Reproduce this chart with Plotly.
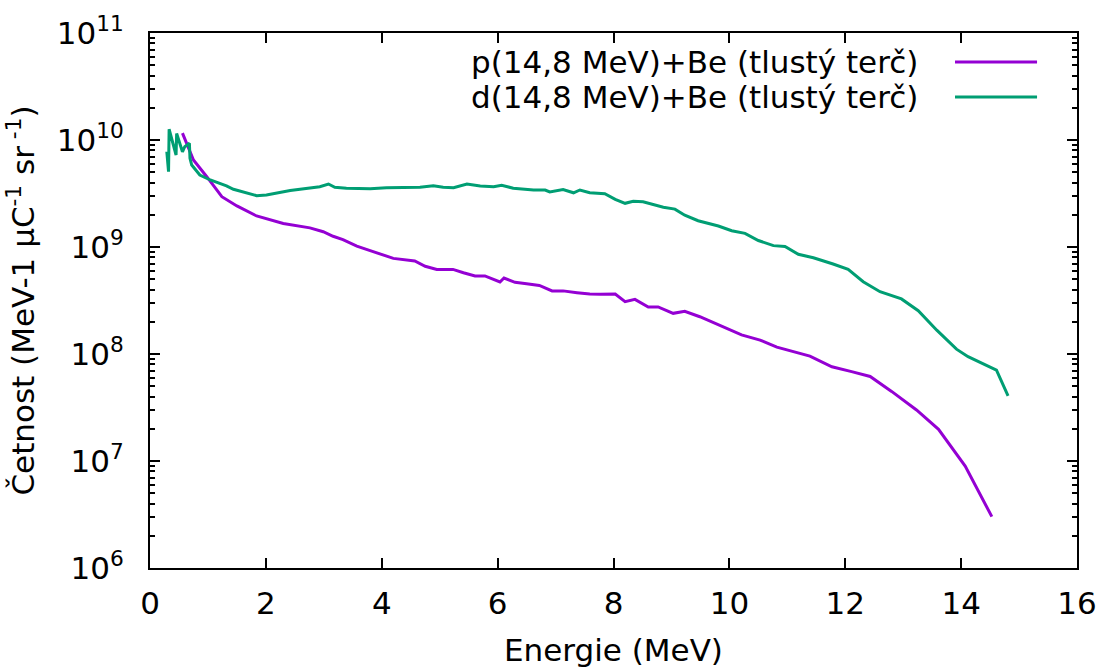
import plotly.graph_objects as go

# Proton beam: p(14,8 MeV)+Be
energy_p = [0.56, 0.75, 0.98, 1.09, 1.24, 1.50, 1.73, 1.84, 2.30, 2.59, 2.76, 2.99, 3.16, 3.33,
            3.57, 3.80, 4.03, 4.20, 4.57, 4.75, 4.95, 5.23, 5.41, 5.61, 5.78, 5.93, 6.04, 6.11,
            6.30, 6.50, 6.72, 6.94, 7.13, 7.37, 7.59, 7.77, 8.03, 8.20, 8.37, 8.60, 8.77, 9.03,
            9.23, 9.49, 9.84, 10.21, 10.53, 10.82, 11.39, 11.77, 12.11, 12.43, 12.80, 13.23,
            13.61, 14.07, 14.53]
yield_p = [1.16e10, 6.5e9, 4.54e9, 3.79e9, 2.95e9, 2.42e9, 2.07e9, 1.95e9, 1.66e9, 1.55e9,
           1.51e9, 1.39e9, 1.26e9, 1.17e9, 1.02e9, 9.25e8, 8.41e8, 7.83e8, 7.40e8, 6.61e8,
           6.17e8, 6.17e8, 5.75e8, 5.37e8, 5.37e8, 5.01e8, 4.71e8, 5.13e8, 4.68e8, 4.54e8,
           4.37e8, 3.89e8, 3.89e8, 3.74e8, 3.63e8, 3.61e8, 3.63e8, 3.08e8, 3.24e8, 2.75e8,
           2.75e8, 2.40e8, 2.51e8, 2.23e8, 1.86e8, 1.51e8, 1.35e8, 1.16e8, 9.55e7, 7.59e7,
           6.84e7, 6.17e7, 4.47e7, 3.0e7, 1.98e7, 8.97e6, 3.02e6]

# Deuteron beam: d(14,8 MeV)+Be
energy_d = [0.29, 0.32, 0.33, 0.45, 0.46, 0.56, 0.60, 0.68, 0.69, 0.72, 0.86, 1.04, 1.32, 1.44,
            1.84, 2.01, 2.42, 2.93, 3.08, 3.19, 3.39, 3.80, 4.08, 4.66, 4.89, 5.06, 5.24, 5.47,
            5.70, 5.93, 6.07, 6.27, 6.62, 6.82, 6.90, 7.13, 7.31, 7.42, 7.59, 7.85, 8.03, 8.20,
            8.34, 8.51, 8.86, 9.06, 9.23, 9.46, 9.81, 10.04, 10.27, 10.50, 10.76, 10.96, 11.19,
            11.45, 11.79, 12.05, 12.31, 12.60, 12.97, 13.26, 13.58, 13.92, 14.12, 14.61, 14.81]
yield_d = [7.78e9, 5.06e9, 1.26e10, 7.24e9, 1.15e10, 7.76e9, 8.65e9, 9.31e9, 6.75e9, 5.83e9,
           4.71e9, 4.23e9, 3.72e9, 3.46e9, 3.02e9, 3.06e9, 3.37e9, 3.66e9, 3.88e9, 3.61e9,
           3.54e9, 3.51e9, 3.58e9, 3.61e9, 3.74e9, 3.61e9, 3.58e9, 3.88e9, 3.72e9, 3.66e9,
           3.78e9, 3.54e9, 3.41e9, 3.41e9, 3.27e9, 3.44e9, 3.21e9, 3.41e9, 3.21e9, 3.15e9,
           2.79e9, 2.56e9, 2.67e9, 2.65e9, 2.35e9, 2.26e9, 1.98e9, 1.76e9, 1.57e9, 1.42e9,
           1.34e9, 1.15e9, 1.03e9, 1.01e9, 8.55e8, 7.94e8, 6.93e8, 6.17e8, 4.74e8, 3.82e8,
           3.27e8, 2.54e8, 1.67e8, 1.11e8, 9.44e7, 7.08e7, 4.07e7]

series_names = ["p(14,8 MeV)+Be (tlustý terč)", "d(14,8 MeV)+Be (tlustý terč)"]
series_colors = ["#9400D3", "#009E73"]

y_tick_vals = [1e6, 1e7, 1e8, 1e9, 1e10, 1e11]
y_tick_text = ["10<sup>6</sup>", "10<sup>7</sup>", "10<sup>8</sup>", "10<sup>9</sup>",
               "10<sup>10</sup>", "10<sup>11</sup>"]
x_tick_vals = [0, 2, 4, 6, 8, 10, 12, 14, 16]

FONT = "DejaVu Sans"
FS = 31

fig = go.Figure()
fig.add_trace(go.Scatter(x=energy_p, y=yield_p, mode="lines", name=series_names[0],
                         line=dict(color=series_colors[0], width=3)))
fig.add_trace(go.Scatter(x=energy_d, y=yield_d, mode="lines", name=series_names[1],
                         line=dict(color=series_colors[1], width=3)))

minor_vals = [m * 10 ** e for e in range(6, 11) for m in range(2, 10)]

fig.update_layout(
    width=1105, height=668,
    margin=dict(l=150, r=28, t=33, b=100),
    paper_bgcolor="white", plot_bgcolor="white",
    showlegend=False,
    font=dict(family=FONT, size=FS, color="black"),
    xaxis=dict(range=[0, 16], tickvals=x_tick_vals, ticks="inside", ticklen=10, tickwidth=1.5,
               tickcolor="black", showline=True, linecolor="black", linewidth=2, mirror="ticks",
               showgrid=False, zeroline=False, ticklabelstandoff=7, automargin=False,
               title=dict(text="Energie (MeV)", standoff=28, font=dict(size=FS)),
               tickfont=dict(size=FS)),
    yaxis=dict(type="log", range=[6, 11], tickvals=y_tick_vals, ticktext=y_tick_text,
               ticks="inside", ticklen=10, tickwidth=1.5, tickcolor="black",
               showline=True, linecolor="black", linewidth=2, mirror="ticks",
               showgrid=False, zeroline=False, ticklabelstandoff=18, automargin=False,
               minor=dict(tickvals=minor_vals, ticks="inside", ticklen=5, tickwidth=1.5,
                          tickcolor="black", showgrid=False),
               title=dict(text="Četnost (MeV-1 μC<sup>-1</sup> sr<sup> -1</sup>)", standoff=13,
                          font=dict(size=FS)),
               tickfont=dict(size=FS)),
)

# Legend in gnuplot style (text right-aligned, sample line to the right)
legend_rows_y = [0.9458, 0.8804]
for name, color, yy in zip(series_names, series_colors, legend_rows_y):
    fig.add_annotation(x=0.8306, y=yy, xref="paper", yref="paper", text=name,
                       showarrow=False, xanchor="right", yanchor="middle",
                       font=dict(family=FONT, size=FS, color="black"))
    fig.add_shape(type="line", xref="paper", yref="paper", x0=0.8684, x1=0.9569,
                  y0=yy, y1=yy, line=dict(color=color, width=3))

fig.write_html("out.html")
